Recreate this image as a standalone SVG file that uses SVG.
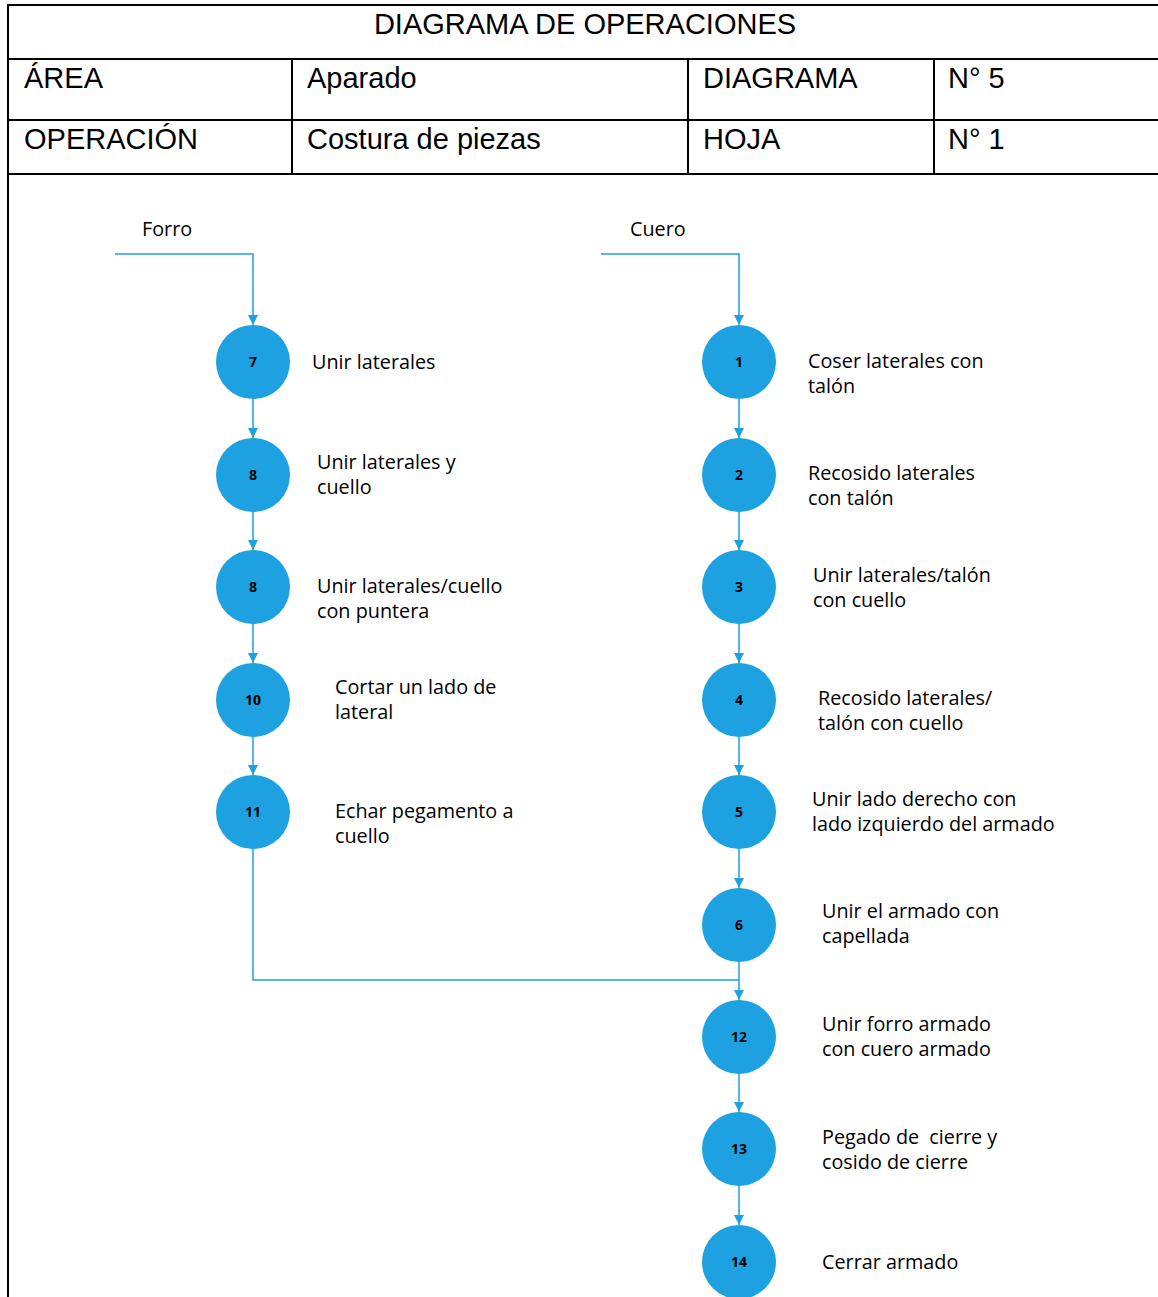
<svg xmlns="http://www.w3.org/2000/svg" width="1158" height="1297" viewBox="0 0 1158 1297">
<defs>
<marker id="ah" viewBox="0 0 10 10" refX="10" refY="5" markerWidth="10" markerHeight="10" markerUnits="userSpaceOnUse" orient="auto">
<path d="M0,0 L10,5 L0,10 z" fill="#1ea1e0"/>
</marker>
</defs>
<style>
.tb{fill:none;stroke:#000;stroke-width:2}
.th{font-family:"Liberation Sans",Arial,sans-serif;font-size:29px;fill:#000}
.c{fill:#1ea1e0}
.n{font-family:"Open Sans","Noto Sans",sans-serif;font-size:14px;font-weight:bold;fill:#000;text-anchor:middle}
.l{font-family:"Open Sans","Noto Sans",sans-serif;font-size:19.8px;fill:#000;white-space:pre}
.e{fill:none;stroke:#1ea1e0;stroke-width:1.5}
</style>
<rect width="1158" height="1297" fill="#fff"/>
<g id="table">
<line class="tb" x1="7" y1="5" x2="1158" y2="5"/>
<line class="tb" x1="8" y1="4" x2="8" y2="1297"/>
<line class="tb" x1="7" y1="59" x2="1158" y2="59"/>
<line class="tb" x1="7" y1="120" x2="1158" y2="120"/>
<line class="tb" x1="7" y1="174" x2="1158" y2="174"/>
<line class="tb" x1="292" y1="59" x2="292" y2="174"/>
<line class="tb" x1="688" y1="59" x2="688" y2="174"/>
<line class="tb" x1="934" y1="59" x2="934" y2="174"/>
<text class="th" x="585" y="34" text-anchor="middle">DIAGRAMA DE OPERACIONES</text>
<text class="th" x="24" y="88">ÁREA</text>
<text class="th" x="307" y="88">Aparado</text>
<text class="th" x="703" y="88">DIAGRAMA</text>
<text class="th" x="948" y="88">N° 5</text>
<text class="th" x="24" y="149">OPERACIÓN</text>
<text class="th" x="307" y="149">Costura de piezas</text>
<text class="th" x="703" y="149">HOJA</text>
<text class="th" x="948" y="149">N° 1</text>
</g>
<g id="connectors">
<polyline class="e" points="115,254 253,254 253,325" marker-end="url(#ah)"/>
<polyline class="e" points="601,254 739,254 739,325" marker-end="url(#ah)"/>
<line class="e" x1="253" y1="399" x2="253" y2="438" marker-end="url(#ah)"/>
<line class="e" x1="253" y1="512" x2="253" y2="550" marker-end="url(#ah)"/>
<line class="e" x1="253" y1="624" x2="253" y2="663" marker-end="url(#ah)"/>
<line class="e" x1="253" y1="737" x2="253" y2="775" marker-end="url(#ah)"/>
<line class="e" x1="739" y1="399" x2="739" y2="438" marker-end="url(#ah)"/>
<line class="e" x1="739" y1="512" x2="739" y2="550" marker-end="url(#ah)"/>
<line class="e" x1="739" y1="624" x2="739" y2="663" marker-end="url(#ah)"/>
<line class="e" x1="739" y1="737" x2="739" y2="775" marker-end="url(#ah)"/>
<line class="e" x1="739" y1="849" x2="739" y2="888" marker-end="url(#ah)"/>
<line class="e" x1="739" y1="962" x2="739" y2="1000" marker-end="url(#ah)"/>
<polyline class="e" points="253,849 253,980 739,980"/>
<line class="e" x1="739" y1="1074" x2="739" y2="1112" marker-end="url(#ah)"/>
<line class="e" x1="739" y1="1186" x2="739" y2="1225" marker-end="url(#ah)"/>
</g>
<g id="start-forro"><text class="l" x="142" y="236">Forro</text></g>
<g id="start-cuero"><text class="l" x="630" y="236">Cuero</text></g>
<g id="op7"><circle class="c" cx="253" cy="362" r="37"/><text class="n" x="253" y="367">7</text><text class="l" x="312" y="369">Unir laterales</text></g>
<g id="op8a"><circle class="c" cx="253" cy="475" r="37"/><text class="n" x="253" y="480">8</text><text class="l" x="317" y="469">Unir laterales y</text><text class="l" x="317" y="494">cuello</text></g>
<g id="op8b"><circle class="c" cx="253" cy="587" r="37"/><text class="n" x="253" y="592">8</text><text class="l" x="317" y="593">Unir laterales/cuello</text><text class="l" x="317" y="618">con puntera</text></g>
<g id="op10"><circle class="c" cx="253" cy="700" r="37"/><text class="n" x="253" y="705">10</text><text class="l" x="335" y="694">Cortar un lado de</text><text class="l" x="335" y="719">lateral</text></g>
<g id="op11"><circle class="c" cx="253" cy="812" r="37"/><text class="n" x="253" y="817">11</text><text class="l" x="335" y="818">Echar pegamento a</text><text class="l" x="335" y="843">cuello</text></g>
<g id="op1"><circle class="c" cx="739" cy="362" r="37"/><text class="n" x="739" y="367">1</text><text class="l" x="808" y="368">Coser laterales con</text><text class="l" x="808" y="393">talón</text></g>
<g id="op2"><circle class="c" cx="739" cy="475" r="37"/><text class="n" x="739" y="480">2</text><text class="l" x="808" y="480">Recosido laterales</text><text class="l" x="808" y="505">con talón</text></g>
<g id="op3"><circle class="c" cx="739" cy="587" r="37"/><text class="n" x="739" y="592">3</text><text class="l" x="813" y="582">Unir laterales/talón</text><text class="l" x="813" y="607">con cuello</text></g>
<g id="op4"><circle class="c" cx="739" cy="700" r="37"/><text class="n" x="739" y="705">4</text><text class="l" x="818" y="705">Recosido laterales/</text><text class="l" x="818" y="730">talón con cuello</text></g>
<g id="op5"><circle class="c" cx="739" cy="812" r="37"/><text class="n" x="739" y="817">5</text><text class="l" x="812" y="806">Unir lado derecho con</text><text class="l" x="812" y="831">lado izquierdo del armado</text></g>
<g id="op6"><circle class="c" cx="739" cy="925" r="37"/><text class="n" x="739" y="930">6</text><text class="l" x="822" y="918">Unir el armado con</text><text class="l" x="822" y="943">capellada</text></g>
<g id="op12"><circle class="c" cx="739" cy="1037" r="37"/><text class="n" x="739" y="1042">12</text><text class="l" x="822" y="1031">Unir forro armado</text><text class="l" x="822" y="1056">con cuero armado</text></g>
<g id="op13"><circle class="c" cx="739" cy="1149" r="37"/><text class="n" x="739" y="1154">13</text><text class="l" x="822" y="1144" xml:space="preserve">Pegado de  cierre y</text><text class="l" x="822" y="1169">cosido de cierre</text></g>
<g id="op14"><circle class="c" cx="739" cy="1262" r="37"/><text class="n" x="739" y="1267">14</text><text class="l" x="822" y="1269">Cerrar armado</text></g>
</svg>
